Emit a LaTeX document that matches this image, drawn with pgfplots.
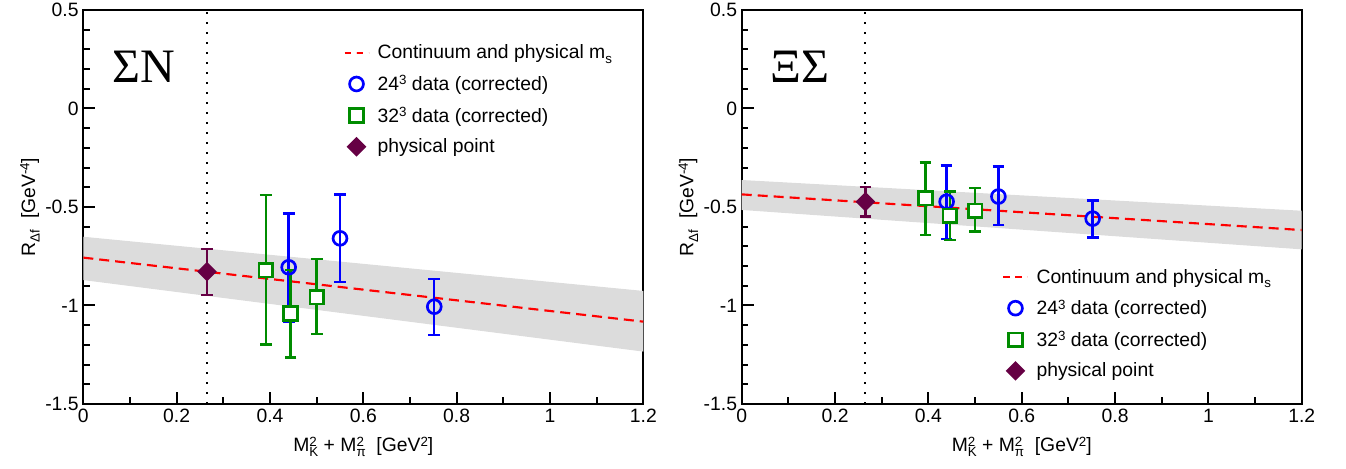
\documentclass[border=0pt]{standalone}
\usepackage{fontspec}
\setmainfont{Liberation Sans}
\newfontfamily\seriffont{Liberation Serif}
\usepackage{pgfplots}
\pgfplotsset{compat=1.18}
\definecolor{bandgray}{RGB}{220,220,220}
\definecolor{dgreen}{RGB}{0,140,0}
\definecolor{dpurple}{RGB}{102,0,68}
\newcommand{\lblfont}{\fontsize{14.5}{17}\selectfont}
\newcommand{\sups}[1]{\raisebox{0.55ex}{\fontsize{10}{12}\selectfont #1}}
\newcommand{\subs}[1]{\raisebox{-0.45ex}{\fontsize{10}{12}\selectfont #1}}
\pgfplotsset{
  myaxis/.style={
    scale only axis, width=420pt, height=295.5pt,
    xmin=0, xmax=1.2, ymin=-1.5, ymax=0.5,
    xtick={0,0.2,0.4,0.6,0.8,1,1.2}, ytick={-1.5,-1,-0.5,0,0.5},
    minor x tick num=1, minor y tick num=4,
    tick pos=left, tick align=inside,
    major tick length=9pt, minor tick length=5pt,
    every tick/.style={black, line width=1.5pt},
    axis line style={line width=1.5pt},
    tick label style={font=\lblfont},
    /pgf/number format/assume math mode=true,
    xlabel={M\makebox[0pt][l]{\sups{2}}\subs{K} + M\makebox[0pt][l]{\sups{2}}\subs{π}\ \ [GeV\sups{2}]},
    ylabel={R\subs{Δf}\ \ [GeV\sups{-4}]},
    every axis x label/.style={at={(axis description cs:0.5,-0.1218)}, anchor=base, font=\lblfont},
    every axis y label/.style={at={(axis description cs:-0.0862,0.5)}, rotate=90, anchor=base, font=\lblfont},
    legend style={draw=none, fill=none, font=\lblfont, inner sep=0pt, row sep=7pt,
      column sep=4pt},
    legend cell align=left,
    legend image code/.code={\draw[mark repeat=2,mark phase=2,##1] plot coordinates {(0pt,0pt) (9pt,0pt) (18pt,0pt)};},
  },
  errb/.style={error bars/.cd, y dir=both, y explicit,
    error bar style={line width=1.8pt},
    error mark options={rotate=90, line width=1.8pt, mark size=4.4pt}},
  blueS/.style={color=blue, only marks, mark=o, mark size=5.2pt, line width=1.8pt, mark options={fill=white, solid, line width=2pt}, errb},
  greenS/.style={color=dgreen, only marks, mark=square*, mark size=5.1pt, line width=1.8pt, mark options={fill=white, solid, line width=2pt}, errb},
  physS/.style={color=dpurple, only marks, mark=square*, mark size=4.3pt, line width=1.8pt, mark options={fill=dpurple, solid, rotate=45}, errb},
  fitS/.style={red, line width=1.6pt, dash pattern=on 7.5pt off 4.5pt,
    legend image post style={dash pattern=on 5pt off 4pt}},
  dotS/.style={black, line width=1.6pt, dash pattern=on 1.5pt off 6pt},
}
\begin{document}
\begin{tikzpicture}
\path[use as bounding box] (0,0) rectangle (1009.5pt,351pt);
% ---------------- left panel: Sigma N
\begin{axis}[myaxis, at={(62.5pt,48pt)}, anchor=south west,
  legend style={at={(rel axis cs:0.464,0.919)}, anchor=north west}]
\addplot[fill=bandgray, draw=none, forget plot] coordinates {(0,-0.651) (1.2,-0.926) (1.2,-1.234) (0,-0.871)} -- cycle;
\addplot[dotS, forget plot] coordinates {(0.265,-1.5) (0.265,0.5)};
\addplot[fitS] coordinates {(0,-0.757) (1.2,-1.082)};
\addlegendentry{Continuum and physical m\subs{s}}
\addplot[blueS] coordinates {
  (0.44,-0.806) += (0,0.274) -= (0,0.276)
  (0.55,-0.659) += (0,0.223) -= (0,0.223)
  (0.752,-1.006) += (0,0.139) -= (0,0.144)
};
\addlegendentry{24\sups{3} data (corrected)}
\addplot[greenS] coordinates {
  (0.391,-0.820) += (0,0.381) -= (0,0.377)
  (0.444,-1.040) += (0,0.220) -= (0,0.223)
  (0.50,-0.958) += (0,0.194) -= (0,0.188)
};
\addlegendentry{32\sups{3} data (corrected)}
\addplot[physS] coordinates {
  (0.265,-0.828) += (0,0.115) -= (0,0.119)
};
\addlegendentry{physical point}
\node[anchor=base west, inner sep=0pt, font=\seriffont\fontsize{36}{40}\selectfont] at (rel axis cs:0.051,0.815) {ΣN};
\end{axis}
% ---------------- right panel: Xi Sigma
\begin{axis}[myaxis, at={(556.3pt,48pt)}, anchor=south west,
  legend style={at={(rel axis cs:0.465,0.35)}, anchor=north west}]
\addplot[fill=bandgray, draw=none, forget plot] coordinates {(0,-0.363) (1.2,-0.519) (1.2,-0.715) (0,-0.515)} -- cycle;
\addplot[dotS, forget plot] coordinates {(0.265,-1.5) (0.265,0.5)};
\addplot[fitS] coordinates {(0,-0.436) (1.2,-0.617)};
\addlegendentry{Continuum and physical m\subs{s}}
\addplot[blueS] coordinates {
  (0.439,-0.473) += (0,0.183) -= (0,0.190)
  (0.55,-0.447) += (0,0.152) -= (0,0.145)
  (0.752,-0.559) += (0,0.091) -= (0,0.095)
};
\addlegendentry{24\sups{3} data (corrected)}
\addplot[greenS] coordinates {
  (0.394,-0.456) += (0,0.182) -= (0,0.187)
  (0.446,-0.545) += (0,0.123) -= (0,0.122)
  (0.50,-0.520) += (0,0.115) -= (0,0.105)
};
\addlegendentry{32\sups{3} data (corrected)}
\addplot[physS] coordinates {
  (0.265,-0.473) += (0,0.076) -= (0,0.076)
};
\addlegendentry{physical point}
\node[anchor=base west, inner sep=0pt, font=\seriffont\fontsize{36}{40}\selectfont] at (rel axis cs:0.051,0.815) {ΞΣ};
\end{axis}
\end{tikzpicture}
\end{document}
